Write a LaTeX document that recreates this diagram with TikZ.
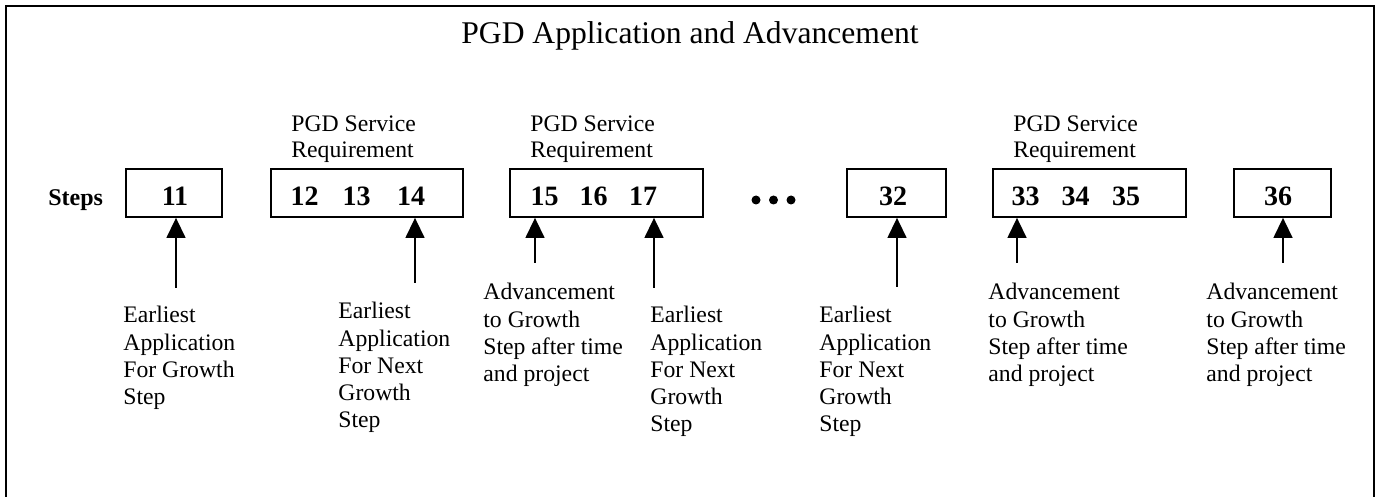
\documentclass[tikz,border=0pt]{standalone}
\usepackage{fontspec}
\setmainfont{Liberation Serif}
\usetikzlibrary{arrows.meta}
\begin{document}
\begin{tikzpicture}[x=0.5pt,y=-0.5pt,
  frameline/.style={line width=1.2pt},
  stepbox/.style={draw, line width=0.9pt, inner sep=0pt, minimum height=24pt},
  num/.style={anchor=base, inner sep=0pt, font=\fontsize{14}{16}\selectfont\bfseries},
  note/.style={anchor=north west, inner sep=0pt, align=left, font=\fontsize{11.85}{13.6}\selectfont},
  svc/.style={anchor=north west, inner sep=0pt, align=left, font=\fontsize{11.85}{13}\selectfont},
  arr/.style={line width=0.7pt, -{Triangle[length=10pt,width=9.5pt]}},
  dot/.style={fill=black}
]
\useasboundingbox (0,0) rectangle (1376,497);
% frame (open at bottom)
\draw[frameline] (6,497) -- (6,6) -- (1374,6) -- (1374,497);

% title
\node[anchor=base, inner sep=0pt, font=\fontsize{15.8}{18}\selectfont] (title) at (690,44) {PGD Application and Advancement};

% Steps label
\node[anchor=base west, inner sep=0pt, font=\fontsize{12}{14}\selectfont\bfseries] (steps) at (48,206) {Steps};

% boxes
\node[stepbox, minimum width=48pt] (b11) at (174,193) {};
\node[stepbox, minimum width=96pt] (b12) at (367,193) {};
\node[stepbox, minimum width=96.5pt] (b15) at (606.5,193) {};
\node[stepbox, minimum width=49.5pt] (b32) at (896.5,193) {};
\node[stepbox, minimum width=96.5pt] (b33) at (1089.5,193) {};
\node[stepbox, minimum width=48.5pt] (b36) at (1282.5,193) {};

% numbers
\node[num] (n11) at (175,206) {11};
\node[num] (n12) at (304.5,206) {12};
\node[num] (n13) at (356.5,206) {13};
\node[num] (n14) at (411,206) {14};
\node[num] (n15) at (544.5,206) {15};
\node[num] (n16) at (593.5,206) {16};
\node[num] (n17) at (643,206) {17};
\node[num] (n32) at (893,206) {32};
\node[num] (n33) at (1025.5,206) {33};
\node[num] (n34) at (1075.5,206) {34};
\node[num] (n35) at (1126,206) {35};
\node[num] (n36) at (1278,206) {36};

% ellipsis dots
\fill[dot] (756,200) circle (4.5);
\fill[dot] (773.5,200) circle (4.5);
\fill[dot] (791,200) circle (4.5);

% PGD Service Requirement labels
\node[svc] (s12) at (291,115) {PGD Service\\Requirement};
\node[svc] (s15) at (530,115) {PGD Service\\Requirement};
\node[svc] (s33) at (1013,115) {PGD Service\\Requirement};

% arrows
\coordinate (t11) at (176,288);
\coordinate (t14) at (415,283);
\coordinate (t15) at (535,263);
\coordinate (t17) at (654,288);
\coordinate (t32) at (897,287);
\coordinate (t33) at (1017,263);
\coordinate (t36) at (1283,263);
\draw[arr] (t11) -- (t11 |- b11.south);
\draw[arr] (t14) -- (t14 |- b12.south);
\draw[arr] (t15) -- (t15 |- b15.south);
\draw[arr] (t17) -- (t17 |- b15.south);
\draw[arr] (t32) -- (t32 |- b32.south);
\draw[arr] (t33) -- (t33 |- b33.south);
\draw[arr] (t36) -- (t36 |- b36.south);

% annotations
\node[note] (l11) at (123,306) {Earliest\\Application\\For Growth\\Step};
\node[note] (l14) at (338,302) {Earliest\\Application\\For Next\\Growth\\Step};
\node[note] (l15) at (483,283) {Advancement\\to Growth\\Step after time\\and project};
\node[note] (l17) at (650,306) {Earliest\\Application\\For Next\\Growth\\Step};
\node[note] (l32) at (819,306) {Earliest\\Application\\For Next\\Growth\\Step};
\node[note] (l33) at (988,283) {Advancement\\to Growth\\Step after time\\and project};
\node[note] (l36) at (1206,283) {Advancement\\to Growth\\Step after time\\and project};
\end{tikzpicture}
\end{document}
